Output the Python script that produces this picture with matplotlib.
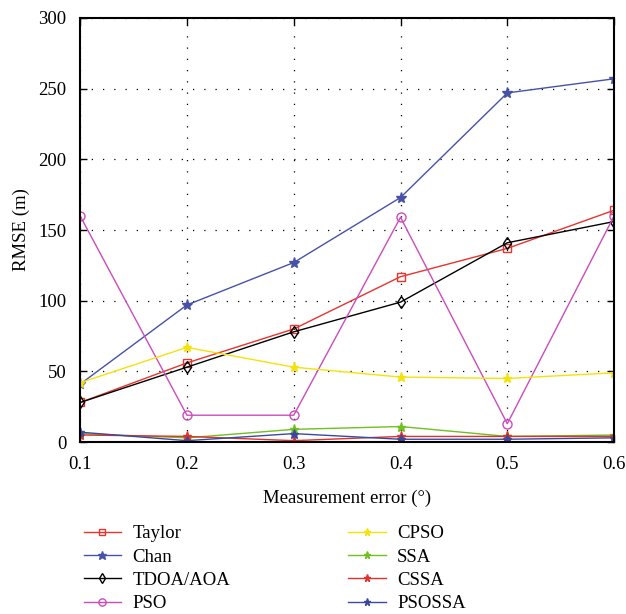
import matplotlib
matplotlib.use('Agg')
import matplotlib.pyplot as plt

plt.rcParams['font.family'] = ['Liberation Serif', 'DejaVu Serif']

# Measurement error (degrees) and RMSE (m) of each method
err = [0.1, 0.2, 0.3, 0.4, 0.5, 0.6]
taylor = [28, 56, 80, 117, 137, 164]
chan = [41, 97, 127, 173, 247, 257]
tdoa_aoa = [28, 53, 78, 99, 141, 156]
pso = [160, 19, 19, 159, 13, 160]
cpso = [42, 67, 53, 46, 45, 49]
ssa = [6, 3, 9, 11, 4, 5]
cssa = [5, 4, 1, 4, 4, 4]
psossa = [7, 1, 6, 2, 2, 3]

fig = plt.figure(figsize=(6.26, 6.14), dpi=100)
ax = fig.add_axes([0.128, 0.28, 0.853, 0.6907])

ax.plot(err, taylor, '-s', color='#e8342c', lw=1, ms=5.5, mfc='none', mew=1, label='Taylor')
ax.plot(err, chan, '-*', color='#4652a8', lw=1, ms=8, label='Chan')
ax.plot(err, tdoa_aoa, '-d', color='black', lw=1, ms=6.5, mfc='none', mew=1, label='TDOA/AOA')
ax.plot(err, pso, '-o', color='#cc4cbc', lw=1, ms=6.5, mfc='none', mew=1, label='PSO')
ax.plot(err, cpso, '-*', color='#f4e20a', lw=1, ms=6.5, label='CPSO')
ax.plot(err, ssa, '-*', color='#70c020', lw=1, ms=6.5, label='SSA')
ax.plot(err, cssa, '-*', color='#e0322a', lw=1, ms=6.5, label='CSSA')
ax.plot(err, psossa, '-*', color='#3a48a0', lw=1, ms=6.5, label='PSOSSA')

ax.set_xlim(0.1, 0.6)
ax.set_ylim(0, 300)
ax.set_xticks(err)
ax.set_xticklabels(['0.1', '0.2', '0.3', '0.4', '0.5', '0.6'])
ax.set_yticks([0, 50, 100, 150, 200, 250, 300])
ax.grid(True, linestyle=(0, (1, 8)), color='black', linewidth=0.9)
ax.tick_params(direction='in', length=5, width=1, top=True, right=True, labelsize=13.5, pad=10)
for sp in ax.spines.values():
    sp.set_linewidth(1.5)

ax.set_xlabel('Measurement error (°)', fontsize=13.5, labelpad=12)
ax.set_ylabel('RMSE (m)', fontsize=13.5, labelpad=6)

ax.legend(ncol=2, frameon=False, fontsize=13.5, loc='upper left',
          bbox_to_anchor=(-0.018, -0.165), handlelength=2.0, columnspacing=6.3,
          labelspacing=0.33, handletextpad=0.6, markerscale=0.8,
          borderaxespad=0.3)

fig.savefig('out.png', dpi=100)
